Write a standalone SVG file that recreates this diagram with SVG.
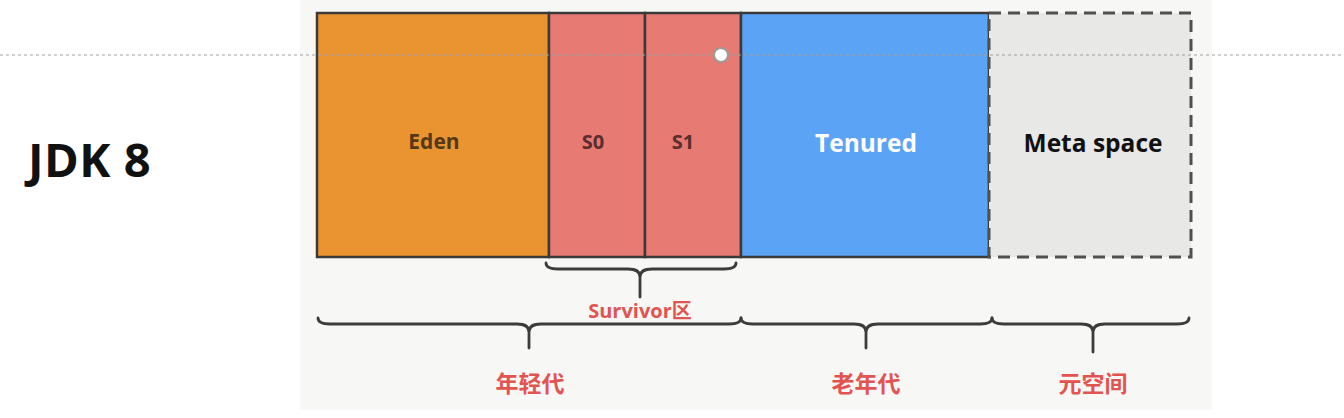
<svg xmlns="http://www.w3.org/2000/svg" width="1344" height="418" viewBox="0 0 1344 418">
<style>
.box{stroke:#3a3a3a;stroke-width:2.5}
.lbl{font-family:"Open Sans","Noto Sans",sans-serif;font-weight:700;text-anchor:middle}
.brace{fill:none;stroke:#3c3c3c;stroke-width:2.8;stroke-linecap:round;stroke-linejoin:round}
.cn{font-family:"Open Sans","Noto Sans CJK SC",sans-serif;font-weight:700;fill:#e25450;text-anchor:middle;font-size:20px}
.cn2{font-size:23px}
</style>
<rect width="1344" height="418" fill="#ffffff"/>
<rect x="300" y="0" width="912" height="410" fill="#f7f7f6"/>
<text x="28" y="177" font-family="Open Sans, Noto Sans, sans-serif" font-weight="700" font-size="47" letter-spacing="0.5" fill="#111">JDK 8</text>
<g id="eden"><rect class="box" x="317" y="13" width="232" height="244" fill="#ea9431"/><text class="lbl" x="434" y="149" font-size="21" fill="#553818">Eden</text></g>
<g id="s0"><rect class="box" x="549" y="13" width="96" height="244" fill="#e87a74"/><text class="lbl" x="593" y="149" font-size="20" fill="#5a2e2e">S0</text></g>
<g id="s1"><rect class="box" x="645" y="13" width="96" height="244" fill="#e87a74"/><text class="lbl" x="683" y="149" font-size="20" fill="#5a2e2e">S1</text></g>
<g id="tenured"><rect class="box" x="741" y="13" width="248" height="244" fill="#5ba3f4"/><text class="lbl" x="866" y="152" font-size="24.5" fill="#ffffff">Tenured</text></g>
<g id="meta"><rect x="989" y="13" width="202" height="244" fill="#e8e8e6" stroke="#505050" stroke-width="3" stroke-dasharray="12,7"/><text class="lbl" x="1093" y="152" font-size="24.5" fill="#111">Meta space</text></g>
<line x1="0" y1="55" x2="1344" y2="55" stroke="#a0a0a0" stroke-width="1" stroke-dasharray="3,3"/>
<circle cx="721" cy="55" r="7" fill="#ffffff" stroke="#9a9a9a" stroke-width="2"/>
<g id="connectors">
<path class="brace" d="M546,263 q0,6 12,6 H628 q12,0 12,8 V297 M640,277 q0,-8 12,-8 H724 q12,0 12,-6"/>
<path class="brace" d="M318,318 q0,6 12,6 H517 q12,0 12,8 V348 M529,332 q0,-8 12,-8 H729 q12,0 12,-6"/>
<path class="brace" d="M741,318 q0,6 12,6 H854 q12,0 12,8 V348 M866,332 q0,-8 12,-8 H980 q12,0 12,-6"/>
<path class="brace" d="M992,318 q0,6 12,6 H1081 q12,0 12,8 V352 M1093,332 q0,-8 12,-8 H1177 q12,0 12,-6"/>
</g>
<g id="labels">
<text class="cn" x="640" y="318">Survivor区</text>
<text class="cn cn2" x="530" y="392">年轻代</text>
<text class="cn cn2" x="866" y="392">老年代</text>
<text class="cn cn2" x="1093" y="392">元空间</text>
</g>
</svg>
